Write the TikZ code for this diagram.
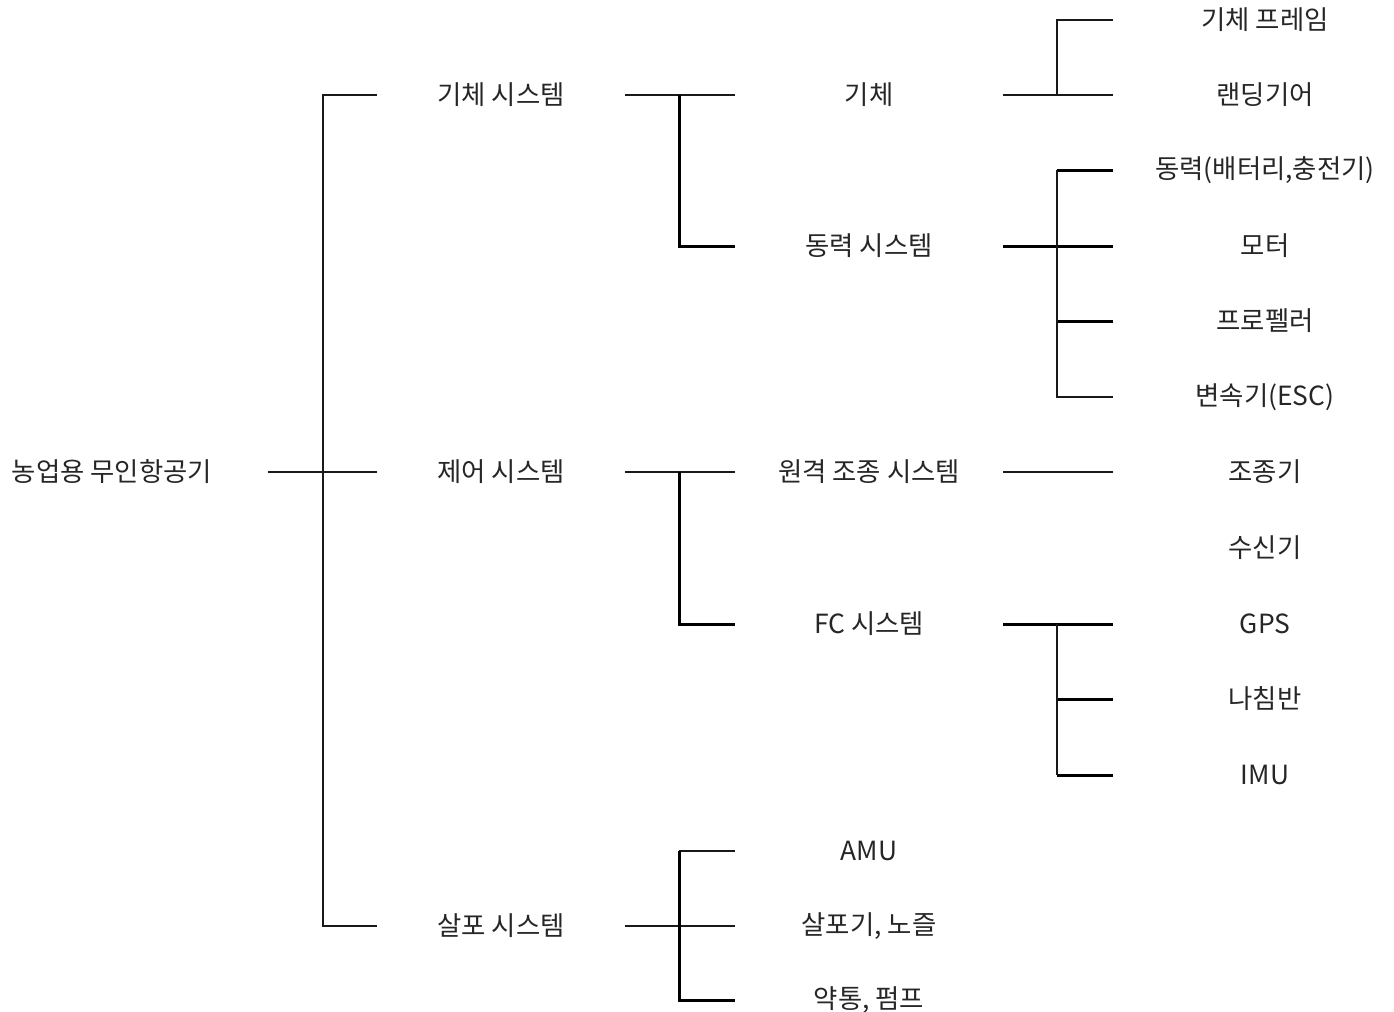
\documentclass[tikz,border=0pt]{standalone}
\usepackage{fontspec}
\usetikzlibrary{calc}
\setmainfont{Noto Sans CJK KR}
\begin{document}
\begin{tikzpicture}[x=0.5pt,y=-0.5pt,
  lbl/.style={inner sep=0pt,outer sep=0pt,text=black!85,font=\fontsize{13.2pt}{15pt}\selectfont,anchor=center},
  lv0/.style={lbl,minimum width=156pt},
  lv1/.style={lbl,minimum width=124pt},
  lv2/.style={lbl,minimum width=134pt},
  lv3/.style={lbl,minimum width=152pt},
  thinln/.style={draw=black!90,line width=0.75pt},
  midln/.style={draw=black!90,line width=1pt},
  thickln/.style={draw=black,line width=1.5pt}]
\useasboundingbox (0,0) rectangle (1394,1012);
% level 0
\node[lv0] (root) at (112,472) {농업용 무인항공기};
% level 1
\node[lv1] (airsys) at (501,95) {기체 시스템};
\node[lv1] (ctrlsys) at (501,472) {제어 시스템};
\node[lv1] (spraysys) at (501,926) {살포 시스템};
% level 2
\node[lv2] (body) at (869,95) {기체};
\node[lv2] (power) at (869,246) {동력 시스템};
\node[lv2] (remote) at (869,472) {원격 조종 시스템};
\node[lv2] (fc) at (869,624) {FC 시스템};
\node[lv2] (amu) at (869,851) {AMU};
\node[lv2] (nozzle) at (869,926) {살포기, 노즐};
\node[lv2] (tank) at (869,1000) {약통, 펌프};
% level 3
\node[lv3] (frame) at (1265,20) {기체 프레임};
\node[lv3] (gear) at (1265,95) {랜딩기어};
\node[lv3] (battery) at (1265,170) {동력(배터리,충전기)};
\node[lv3] (motor) at (1265,246) {모터};
\node[lv3] (prop) at (1265,321) {프로펠러};
\node[lv3] (esc) at (1265,397) {변속기(ESC)};
\node[lv3] (rc) at (1265,472) {조종기};
\node[lv3] (rx) at (1265,548) {수신기};
\node[lv3] (gps) at (1265,624) {GPS};
\node[lv3] (compass) at (1265,699) {나침반};
\node[lv3] (imu) at (1265,775) {IMU};
% root connectors
\draw[midln] (root.east) -- (ctrlsys.west);
\draw[midln] (airsys.west) -- ++(-54,0) |- (spraysys.west);
% level 1 -> level 2
\draw[thinln] (airsys.east) -- (body.west);
\draw[thickln] (body.west) ++(-56,0) |- (power.west);
\draw[thinln] (ctrlsys.east) -- (remote.west);
\draw[thickln] (remote.west) ++(-56,0) |- (fc.west);
\draw[thinln] (spraysys.east) -- (nozzle.west);
\draw[thinln] (amu.west) -- ++(-56,0);
\draw[thickln] (amu.west) ++(-56,0) |- (tank.west);
% level 2 -> level 3
\draw[thinln] (body.east) -- (gear.west);
\draw[thinln] (frame.west) -- ++(-56,0) |- (gear.west);
\draw[thickln] (power.east) -- (motor.west);
\draw[thickln] (battery.west) -- ++(-56,0);
\draw[thickln] (prop.west) -- ++(-56,0);
\draw[midln] (battery.west) ++(-56,0) |- (esc.west);
\draw[midln] (remote.east) -- (rc.west);
\draw[thickln] (fc.east) -- (gps.west);
\draw[thickln] (compass.west) -- ++(-56,0);
\draw[thickln] (imu.west) -- ++(-56,0);
\draw[midln] ($(gps.west)+(-56,0)$) -- ($(imu.west)+(-56,0)$);
\end{tikzpicture}
\end{document}
